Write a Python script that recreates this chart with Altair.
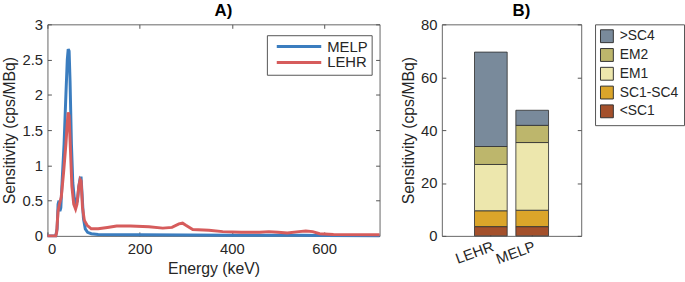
import altair as alt
import pandas as pd

# ---- Panel A: energy spectra ----
melp_energy = [0, 18, 21, 23, 25, 27, 29, 32, 36, 40, 43, 45, 47, 49, 52, 55, 58, 62, 65, 68, 71, 73, 75, 78, 82, 87, 95, 110, 200, 400, 550, 600, 720]
melp_sens = [0, 0, 0.1, 0.45, 0.5, 0.35, 0.4, 0.8, 1.3, 2.0, 2.5, 2.65, 2.62, 2.2, 1.3, 0.75, 0.55, 0.45, 0.5, 0.7, 0.82, 0.82, 0.6, 0.25, 0.1, 0.05, 0.03, 0.02, 0.015, 0.01, 0.01, 0.005, 0.003]

lehr_energy = [0, 18, 20, 23, 26, 30, 35, 40, 43, 45, 47, 50, 53, 57, 61, 64, 68, 71, 73, 76, 80, 86, 95, 110, 130, 150, 180, 220, 250, 270, 285, 293, 300, 315, 350, 380, 420, 460, 480, 500, 520, 545, 560, 575, 590, 620, 720]
lehr_sens = [0, 0, 0.05, 0.35, 0.45, 0.55, 0.9, 1.3, 1.6, 1.75, 1.7, 1.2, 0.7, 0.45, 0.38, 0.45, 0.7, 0.8, 0.78, 0.4, 0.22, 0.15, 0.1, 0.1, 0.12, 0.14, 0.14, 0.13, 0.11, 0.12, 0.17, 0.18, 0.15, 0.09, 0.08, 0.06, 0.05, 0.05, 0.06, 0.05, 0.04, 0.06, 0.07, 0.06, 0.03, 0.02, 0.015]

series_names = ["MELP", "LEHR"]
series_colors = ["#3b7dbf", "#d65c5c"]

energy_ticks = [0, 200, 400, 600]
sens_ticks_a = [0, 0.5, 1, 1.5, 2, 2.5, 3]

# ---- Panel B: stacked sensitivity ----
collimators = ["LEHR", "MELP"]
components = [">SC4", "EM2", "EM1", "SC1-SC4", "<SC1"]
component_colors = ["#798a9b", "#bdb66c", "#ede7ad", "#dba52a", "#a4502b"]
lehr_parts = {"<SC1": 3.5, "SC1-SC4": 6.0, "EM1": 17.5, "EM2": 6.8, ">SC4": 35.7}
melp_parts = {"<SC1": 3.5, "SC1-SC4": 6.2, "EM1": 25.6, "EM2": 6.5, ">SC4": 5.7}
sens_ticks_b = [0, 20, 40, 60, 80]

FONT = "Liberation Sans"
TXT = "#262626"

df_a = pd.concat([
    pd.DataFrame({"energy": melp_energy, "sens": melp_sens, "series": "MELP", "k": 0}),
    pd.DataFrame({"energy": lehr_energy, "sens": lehr_sens, "series": "LEHR", "k": 1}),
], ignore_index=True)

color_a = alt.Color("series:N",
                    scale=alt.Scale(domain=series_names, range=series_colors),
                    legend=alt.Legend(title=None, orient="none", legendX=222, legendY=11,
                                      symbolType="M-3.75,0H3.75", symbolSize=144, symbolStrokeWidth=3,
                                      symbolOffset=21, labelOffset=21,
                                      labelFontSize=15, labelColor=TXT, padding=4, rowPadding=0,
                                      strokeColor="#555", fillColor="white", cornerRadius=0))

xscale_a = alt.Scale(domain=[0, 720], nice=False)
yscale_a = alt.Scale(domain=[0, 3], nice=False)

lines_a = alt.Chart(df_a).mark_line(strokeWidth=3).encode(
    x=alt.X("energy:Q", scale=xscale_a,
            axis=alt.Axis(title="Energy (keV)", values=energy_ticks, orient="bottom",
                          labelPadding=6, titlePadding=4)),
    y=alt.Y("sens:Q", scale=yscale_a,
            axis=alt.Axis(title="Sensitivity (cps/MBq)", values=sens_ticks_a, format="~g",
                          orient="left", labelPadding=5, titlePadding=4)),
    color=color_a,
    detail="k:O",
)

# invisible layer carrying the top / right tick-only axes (box style)
box_a = alt.Chart(df_a).mark_point(opacity=0).encode(
    x=alt.X("energy:Q", scale=xscale_a,
            axis=alt.Axis(orient="top", values=energy_ticks, labels=False, title=None,
                          minExtent=0, labelPadding=0)),
    y=alt.Y("sens:Q", scale=yscale_a,
            axis=alt.Axis(orient="right", values=sens_ticks_a, labels=False, title=None,
                          minExtent=0, labelPadding=0)),
)

chart_a = alt.layer(lines_a, box_a).resolve_axis(x="independent", y="independent").properties(
    width=336, height=214,
    title=alt.TitleParams("A)", fontSize=17, fontWeight="bold", dx=10, offset=-3,
                          frame="group", anchor="middle", color="#000"))

rows = []
for c, parts in zip(collimators, [lehr_parts, melp_parts]):
    for i, comp in enumerate(["<SC1", "SC1-SC4", "EM1", "EM2", ">SC4"]):
        rows.append({"collimator": c, "component": comp, "value": parts[comp], "o": i})
df_b = pd.DataFrame(rows)

yscale_b = alt.Scale(domain=[0, 80], nice=False)

bars_b = alt.Chart(df_b).mark_bar(stroke="#333", strokeWidth=1, strokeOpacity=0.85).encode(
    x=alt.X("collimator:N", sort=collimators,
            scale=alt.Scale(paddingInner=0.21, paddingOuter=0.79),
            axis=alt.Axis(title=None, labelAngle=340, labelFontSize=15, labelPadding=3)),
    y=alt.Y("value:Q", stack="zero", scale=yscale_b,
            axis=alt.Axis(title="Sensitivity (cps/MBq)", values=sens_ticks_b, orient="left",
                          labelPadding=5, titlePadding=4)),
    color=alt.Color("component:N",
                    scale=alt.Scale(domain=components, range=component_colors),
                    legend=alt.Legend(title=None, orient="right", offset=13,
                                      symbolType="square", symbolSize=169, symbolStrokeColor="#333",
                                      symbolStrokeWidth=1, labelFontSize=14, labelOffset=6,
                                      labelColor=TXT, padding=5, rowPadding=1,
                                      strokeColor="#555", fillColor="white")),
    order=alt.Order("o:Q", sort="ascending"),
)

box_b = alt.Chart(df_b).mark_point(opacity=0).encode(
    y=alt.Y("value:Q", scale=yscale_b,
            axis=alt.Axis(orient="right", values=sens_ticks_b, labels=False, title=None,
                          minExtent=0, labelPadding=0)),
)

chart_b = alt.layer(bars_b, box_b).resolve_axis(y="independent").properties(
    width=141, height=214,
    title=alt.TitleParams("B)", fontSize=17, fontWeight="bold", dx=10, offset=-3,
                          frame="group", anchor="middle", color="#000"))

chart = alt.hconcat(chart_a, chart_b, spacing=13).resolve_scale(color="independent").properties(
    padding={"left": 1, "top": 0, "right": 0, "bottom": 0}
).configure(font=FONT).configure_view(
    stroke="#666", strokeWidth=1
).configure_axis(
    domain=False, tickSize=4, offset=-4, ticks=True, tickColor="#555",
    labelFontSize=15, titleFontSize=16, labelColor=TXT, titleColor=TXT,
    titleFontWeight="normal", grid=False
).configure_title(fontSize=17, color="#000")

chart.save("out.html", embed_options={"renderer": "svg", "actions": False})
